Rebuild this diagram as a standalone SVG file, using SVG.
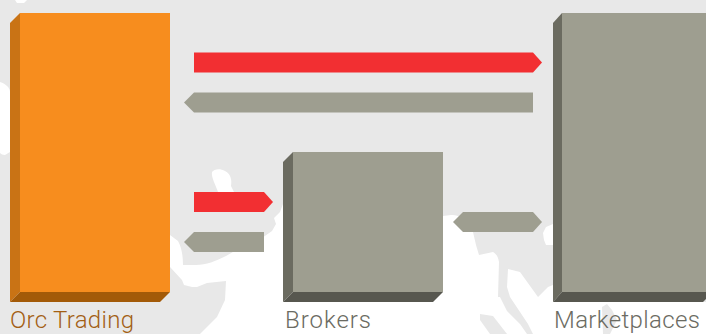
<svg xmlns="http://www.w3.org/2000/svg" width="706" height="334" viewBox="0 0 706 334">
<style>
.bg{fill:#e8e8e8}
.map{fill:#fff}
.gf{fill:#9e9e90}
.gs{fill:#6b6b60}
.gb{fill:#57574f}
.of{fill:#f78d1e}
.os{fill:#c97315}
.ob{fill:#a35a08}
.red{fill:#f22f32}
.lab{font-family:Roboto,"Liberation Sans",sans-serif;font-weight:300;font-size:24px}
</style>
<g id="background">
<rect class="bg" width="706" height="334"/>
<path class="map" d="M15 0H27L24 3H17Z"/>
<path class="map" d="M0 82C6 84 10 88 10 92V152L5 155C3 155 1 154 0 153Z"/>
<path class="map" d="M212 172C214 169 220 168 225 171C231 174 232 180 231 186L234 192H218C216 186 211 177 212 172Z"/>
<path class="map" d="M170 235L178 241C181 246 183 254 183 265L196 265C206 265 216 261 226 256L245 245L262 238L272 231L276 224L274 218L280 212L283 204V199H443V216L451 215C456 215 460 216 463 220L473 232L476 245L479 255L493 252C496 254 498 256 499 262L498 297L500 297L507 311L520 324L527 334H533L528 324L520 312L510 297L507 287L508 269L520 272L538 297L548 287L553 285V302H706V334H200L217 317L225 300L226 281L207 283L197 287H192L184 285L182 280L170 267Z"/>
<path class="bg" d="M480 314L493 316L507 334H490L480 320Z"/>
<path class="bg" d="M602 307L607 304L612 310L617 320L610 334H603Z"/>
<path class="map" d="M553 224L546 227L543 233L544 240L546 245L553 245Z"/>
</g>
<g id="connectors">
<polygon class="red" points="194,52.5 533,52.5 542,62.5 533,72.5 194,72.5"/>
<polygon class="gf" points="184,102.5 194,92.5 533,92.5 533,112.5 194,112.5"/>
<polygon class="red" points="194,192 264,192 273,202 264,212 194,212"/>
<polygon class="gf" points="184,242 194,232 264,232 264,252 194,252"/>
<polygon class="gf" points="453,222 463,212 533,212 542,222 533,232 463,232"/>
</g>
<g id="orc-trading">
<polygon class="os" points="10,23 20,13 20,292 10,302"/>
<polygon class="ob" points="10,302 20,292 170,292 160,302"/>
<rect class="of" x="20" y="13" width="150" height="279"/>
<text class="lab" x="10" y="328" fill="#a35f14" textLength="124">Orc Trading</text>
</g>
<g id="brokers">
<polygon class="gs" points="283,162 293,152 293,292 283,302"/>
<polygon class="gb" points="283,302 293,292 443,292 433,302"/>
<rect class="gf" x="293" y="152" width="150" height="140"/>
<text class="lab" x="285" y="328" fill="#6b6b62" textLength="86">Brokers</text>
</g>
<g id="marketplaces">
<polygon class="gs" points="553,23 562,13 562,292 553,302"/>
<polygon class="gb" points="553,302 562,292 713,292 703,302"/>
<rect class="gf" x="562" y="13" width="144" height="279"/>
<text class="lab" x="554" y="328" fill="#6b6b62" textLength="146">Marketplaces</text>
</g>
</svg>
